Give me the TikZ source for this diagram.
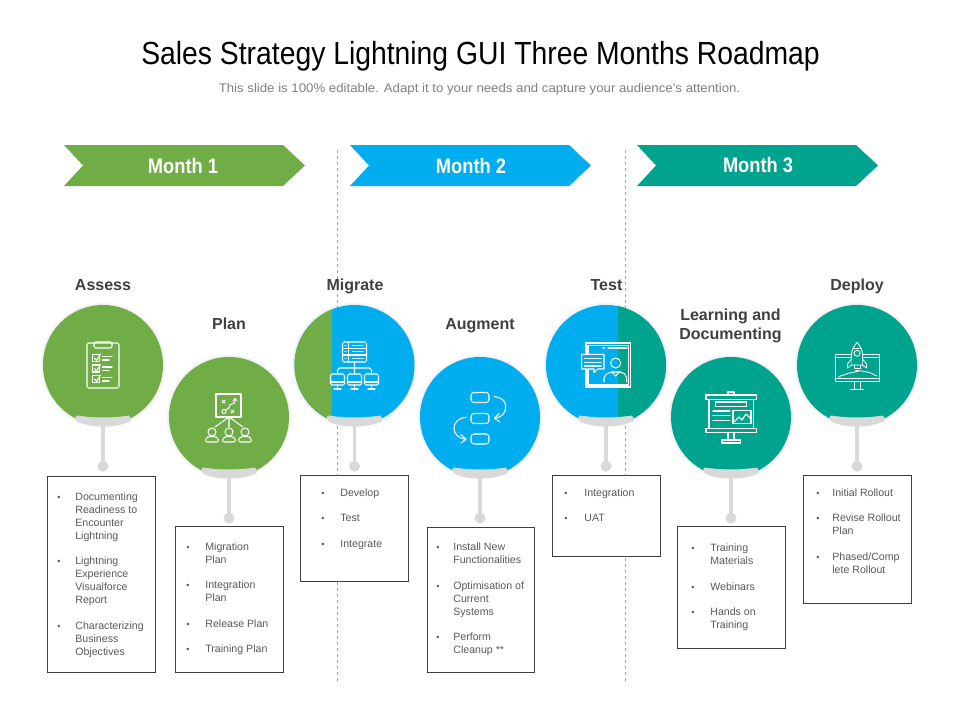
\documentclass[tikz,border=0pt]{standalone}
\usepackage{fontspec}
\setmainfont{Liberation Sans}
\usetikzlibrary{arrows.meta}
\definecolor{cgreen}{HTML}{70AD47}
\definecolor{cblue}{HTML}{00ADEF}
\definecolor{cteal}{HTML}{00A38D}
\definecolor{cgrey}{HTML}{D9D9D9}
\definecolor{ctext}{HTML}{404040}
\definecolor{clist}{HTML}{595959}
\tikzset{
  x=1pt,y=-1pt,
  month/.style={font=\fontsize{21}{24}\selectfont\bfseries,text=white,inner sep=0pt},
  heading/.style={font=\fontsize{16}{19}\selectfont\bfseries,text=ctext,inner sep=0pt,align=center},
  disc/.style={circle,minimum size=120pt,inner sep=0pt,fill=#1},
  glow/.style={circle,minimum size=#1,inner sep=0pt,fill=black,fill opacity=.035},
  stem/.style={cgrey,line width=3.5pt},
  pin/.style={circle,fill=cgrey,minimum size=11pt,inner sep=0pt},
  capband/.style={cgrey,fill=cgrey,line width=.8pt,line join=round},
  listbox/.style={draw=ctext,line width=.7pt,fill=white,inner sep=0pt,anchor=north west,text=clist},
  ic/.style={white,line width=1.05pt,line join=round,line cap=round},
  divider/.style={gray!70,line width=.6pt,dash pattern=on 3pt off 3pt},
}
% \dsc{name}{x}{y}{fill}
\newcommand{\dsc}[4]{%
  \node[glow=125pt] at (#2,#3) {};
  \node[glow=122pt] at (#2,#3) {};
  \node[disc=#4] (#1) at (#2,#3) {};
}
\newcommand{\stemcap}[1]{%
  \node[pin] (#1d) at ([yshift=-41pt]#1.south) {};
  \draw[stem] (#1.south) -- (#1d);
  \path (#1.center) ++(-25.5,51) coordinate (#1a) ++(51,0) coordinate (#1b);
  \draw[capband] (#1a) .. controls +(16,2.5) and +(-16,2.5) .. (#1b)
     .. controls +(2.5,0.3) and +(2.5,3) .. ([shift={(-0.5,5.5)}]#1b)
     .. controls +(-13,6) and +(13,6) .. ([shift={(0.5,5.5)}]#1a)
     .. controls +(-2.5,-2.5) and +(-2.5,-0.3) .. (#1a) -- cycle;
}
% \lbox{name}{x}{y}{w}{h}{top gap}{bullet indent}{text indent}{items}
\newcommand{\lbox}[9]{%
  \node[listbox] (#1) at (#2,#3) {%
    \begin{minipage}[t][#5pt][t]{#4pt}%
    \vspace*{0pt}\par\vspace{#6pt}%
    \fontsize{10.6}{13}\selectfont
    \begin{list}{\makebox[\dimexpr#8pt-#7pt\relax][l]{\fontsize{9}{9}\selectfont\textbullet}}{%
      \setlength{\leftmargin}{#8pt}\setlength{\rightmargin}{0pt}%
      \setlength{\labelwidth}{\dimexpr#8pt-#7pt\relax}\setlength{\labelsep}{0pt}%
      \setlength{\itemsep}{12.5pt}\setlength{\parsep}{0pt}\setlength{\topsep}{0pt}\setlength{\partopsep}{0pt}}
    #9
    \end{list}%
    \end{minipage}};
}
\begin{document}
\begin{tikzpicture}
\useasboundingbox (0,0) rectangle (960,720);
\fill[white] (0,0) rectangle (960,720);

\node[inner sep=0pt,text=black,font=\fontsize{32}{36}\selectfont] (title) at (480.5,56) {\scalebox{.885}[1]{Sales Strategy Lightning GUI Three Months Roadmap}};
\node[inner sep=0pt,text=gray,font=\fontsize{12.5}{14}\selectfont] (sub) at (479.5,89.5) {\scalebox{1.058}[1]{This slide is 100\% editable. Adapt it to your needs and capture your audience’s attention.}};

\draw[divider] (337.5,150) coordinate (d1a) -- (337.5,682) coordinate (d1b);
\draw[divider] (625,150) coordinate (d2a) -- (625,682) coordinate (d2b);

\fill[cgreen] (64,145) -- (283,145) -- (305,165.5) -- (283,186) -- (64,186) -- (83,165.5) -- cycle;
\fill[cblue] (350,145) -- (569,145) -- (591,165.5) -- (569,186) -- (350,186) -- (369,165.5) -- cycle;
\fill[cteal] (637,145) -- (856,145) -- (878,165.5) -- (856,186) -- (637,186) -- (656,165.5) -- cycle;
\node[month] (m1) at (183,165.5) {\scalebox{.87}[1]{Month 1}};
\node[month] (m2) at (471,165.5) {\scalebox{.87}[1]{Month 2}};
\node[month] (m3) at (758,165.5) {\scalebox{.87}[1]{Month 3}};

\node[heading,anchor=base] (h1) at (103,290.5) {Assess};
\node[heading,anchor=base] (h2) at (229,329.5) {Plan};
\node[heading,anchor=base] (h3) at (355,290.5) {Migrate};
\node[heading,anchor=base] (h4) at (480,329.5) {Augment};
\node[heading,anchor=base] (h5) at (606.5,290.5) {Test};
\node[heading] (h6) at (730.5,326) {Learning and\\Documenting};
\node[heading,anchor=base] (h7) at (857,290.5) {Deploy};

\dsc{c1}{103}{365}{cgreen}
\dsc{c2}{229}{417}{cgreen}
\dsc{c3}{354.5}{365}{cblue}
\dsc{c4}{480}{417}{cblue}
\dsc{c5}{606}{365}{cblue}
\dsc{c6}{731}{417}{cteal}
\dsc{c7}{857}{365}{cteal}
\begin{scope}
  \clip (354.5,365) circle[radius=60pt];
  \fill[cgreen] (290,300) rectangle (332,430);
\end{scope}
\begin{scope}
  \clip (606,365) circle[radius=60pt];
  \fill[cteal] (618,300) rectangle (670,430);
\end{scope}

\stemcap{c1}\stemcap{c2}\stemcap{c3}\stemcap{c4}\stemcap{c5}\stemcap{c6}\stemcap{c7}

% --- icons ---
\begin{scope}[shift={(103,365)},ic]
  \draw[rounded corners=2pt] (-16,-22) rectangle (16,23);
  \draw[rounded corners=1.5pt] (-9,-23) rectangle (9,-17);
  \foreach \r in {-7,3.5,14}{
    \draw (-10.5,\r-3.5) rectangle (-3.5,\r+3.5);
    \draw (-8.5,\r) -- (-6.5,\r+2.5) -- (-2.5,\r-4);
    \draw (-0.5,\r-1.5) -- (9,\r-1.5);
    \draw (-0.5,\r+2) -- (6,\r+2);
  }
\end{scope}
\begin{scope}[shift={(229,417)},ic]
  \draw (-13,-23) rectangle (12,0);
  \draw (-7,-17) -- (-4,-14) (-7,-14) -- (-4,-17);
  \draw (2,-7) -- (5,-4) (2,-4) -- (5,-7);
  \draw (-5,-5.5) circle[radius=2pt];
  \draw (-3,-7) .. controls (2,-9) and (-1,-13) .. (3,-13) .. controls (5,-13) and (6,-14) .. (6,-18);
  \draw (4,-16) -- (6,-18.5) -- (8,-16);
  \draw (0,0) -- (-14,10) (0,0) -- (0,10) (0,0) -- (14,10);
  \foreach \p in {-17,0,16}{
    \draw (\p,15) circle[radius=4pt];
    \draw[rounded corners=2pt] (\p-6.5,25) -- (\p-6.5,21) -- (\p-3,19.5) -- (\p+3,19.5) -- (\p+6.5,21) -- (\p+6.5,25) -- cycle;
  }
\end{scope}
\begin{scope}[shift={(354.5,365)},ic]
  \draw[rounded corners=1.5pt] (-12,-23) rectangle (12,-3);
  \draw (-12,-16.5) -- (12,-16.5) (-12,-10) -- (12,-10);
  \draw (-6,-23) -- (-6,-3);
  \foreach \r in {-19.7,-13.2,-6.5}{
    \draw (-9.5,\r) -- (-8.5,\r);
    \draw[dash pattern=on 1.5pt off 1.5pt] (-2,\r) -- (9,\r);
  }
  \draw (0,-3) -- (0,3) (-17,9) -- (-17,5) to[out=-90,in=180] (-15,3) -- (15,3) to[out=0,in=-90] (17,5) -- (17,9) (0,3) -- (0,9);
  \foreach \p in {-17,0,17}{
    \draw[rounded corners=1.5pt] (\p-7,9) rectangle (\p+7,20);
    \draw (\p-7,17) -- (\p+7,17);
    \draw (\p,20) -- (\p,24) (\p-3.5,24) -- (\p+3.5,24);
  }
\end{scope}
\begin{scope}[shift={(480,417)},ic]
  \foreach \r in {-19.5,1.5,22}{
    \draw[rounded corners=3pt] (-9,\r-5) rectangle (9,\r+5);
  }
  \draw (14,-20.5) .. controls (24,-19) and (26,-14) .. (25.7,-9.7) .. controls (25.5,-4) and (22,0) .. (15,1.3);
  \draw (19,-3.5) -- (14.5,1.3) -- (20,5);
  \draw (-14,0.3) .. controls (-22,1) and (-26,6) .. (-26,11.3) .. controls (-26,17) and (-22,21) .. (-14,22.3);
  \draw (-19,17.5) -- (-14,22.3) -- (-19,26);
\end{scope}
\begin{scope}[shift={(606,365)},ic]
  \draw (-20,-22) rectangle (24.7,22);
  \draw (-18,-19.5) rectangle (22.7,20);
  \draw (-3,-17) -- (-1.5,-17) (2,-17) -- (21,-17);
  \draw[fill=cblue] (-24.3,-10.7) -- (-2,-10.7) -- (-2,4) -- (-8,4) -- (-12,7.5) -- (-12,4) -- (-24.3,4) -- cycle;
  \foreach \r in {-6.5,-2.5,1}{
    \draw[dash pattern=on 1.5pt off 1pt] (-21.5,\r) -- (-4.5,\r);
  }
  \draw (9.7,-2) circle[radius=5pt];
  \draw[rounded corners=2pt] (-2,17) -- (-2,11) -- (4,7) -- (16,7) -- (20.7,11) -- (20.7,17);
  \draw (6,7) -- (9.7,11) -- (13.5,7);
\end{scope}
\begin{scope}[shift={(731,417)},ic,line width=1.15pt]
  \draw (-25,-22) rectangle (25.7,-17.7);
  \draw (-3,-25) rectangle (3,-22);
  \draw (-22,-17.7) -- (-22,11.3) (22.5,-17.7) -- (22.5,11.3);
  \draw (-25,11.3) rectangle (25.7,15.3);
  \draw (-3,15.3) -- (-3,23) (3,15.3) -- (3,23);
  \draw (-9,23) rectangle (9.5,26);
  \draw (-15.3,-15) rectangle (15.3,-10.3);
  \draw (-18,-6) -- (-1,-6) (-18,-1.3) -- (-1,-1.3) (-18,3.7) -- (-1,3.7);
  \draw (2,-6.3) rectangle (20,6.3);
  \draw (3,5) -- (8,0) -- (11,3) -- (15,-3) -- (20,2);
\end{scope}
\begin{scope}[shift={(857,365)},ic,line width=.85pt]
  \draw (-22,-11) rectangle (22,16.7);
  \draw (-22,-8) -- (22,-8) (-22,13.3) -- (22,13.3);
  \draw (-3,16.7) -- (-3,24) (3,16.7) -- (3,24) (-6.7,24) -- (6.7,24);
  \draw (-18.5,12.3) .. controls (-15,9) and (-12,11) .. (-9,8.5) .. controls (-6,7) and (-3,8) .. (0,6.5) .. controls (3,4.5) and (6,7) .. (10,7) .. controls (14,7) and (16,10) .. (20,11);
  \draw[fill=cteal] (0,-22.7) .. controls (3,-19) and (5.5,-15) .. (5.5,-10) -- (5.5,0) -- (-5.5,0) -- (-5.5,-10) .. controls (-5.5,-15) and (-3,-19) .. (0,-22.7) -- cycle;
  \draw (-4,-17) -- (4,-17);
  \draw (0,-11.7) circle[radius=3pt];
  \draw[fill=cteal] (-5.5,-6) -- (-9.5,-1) -- (-9.5,3) -- (-5.5,0);
  \draw[fill=cteal] (5.5,-6) -- (9.5,-1) -- (9.5,3) -- (5.5,0);
  \draw (-3,0) -- (-3,3.5) -- (3,3.5) -- (3,0);
  \draw (-1.5,5.5) -- (1.5,5.5);
\end{scope}

% --- lists ---
\lbox{b1}{47}{476}{108}{196}{16}{10}{28}{%
  \item Documenting\\Readiness to\\Encounter\\Lightning
  \item Lightning\\Experience\\Visualforce\\Report
  \item Characterizing\\Business\\Objectives}
\lbox{b2}{175}{526}{108}{146}{16}{11}{30}{%
  \item Migration\\Plan
  \item Integration\\Plan
  \item Release Plan
  \item Training Plan}
\lbox{b3}{300}{475}{108}{106}{13}{21}{40}{%
  \item Develop
  \item Test
  \item Integrate}
\lbox{b4}{427}{527}{107}{145}{15.5}{9}{26}{%
  \item Install New\\Functionalities
  \item Optimisation of\\Current\\Systems
  \item Perform\\Cleanup **}
\lbox{b5}{552}{475}{108}{81}{13}{12}{32}{%
  \item Integration
  \item UAT}
\lbox{b6}{677}{526}{108}{122}{17.5}{14}{33}{%
  \item Training\\Materials
  \item Webinars
  \item Hands on\\Training}
\lbox{b7}{803}{475}{108}{128}{13}{13}{29}{%
  \item Initial Rollout
  \item Revise Rollout\\Plan
  \item Phased/Comp\\lete Rollout}
\end{tikzpicture}
\end{document}
